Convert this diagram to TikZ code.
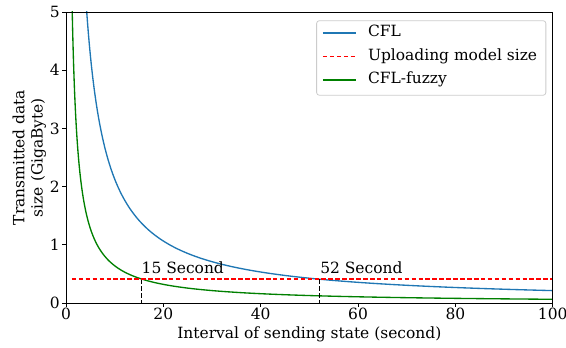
\documentclass[tikz,border=0pt]{standalone}
\usepackage{fontspec}
\setmainfont{DejaVu Serif}
\usetikzlibrary{calc}
\definecolor{cflblue}{HTML}{1F77B4}
\definecolor{fuzzygreen}{HTML}{008000}
\definecolor{limitred}{HTML}{FF0000}
\definecolor{legendgray}{HTML}{CCCCCC}

\begin{document}
\begin{tikzpicture}[x=3.65pt,y=43.65pt,
  every node/.style={font=\fontsize{11.6}{13.6}\selectfont},
  curve/.style={line width=1pt},
  limit/.style={line width=1pt,draw=limitred,dash pattern=on 3.4pt off 1.8pt},
  mark line/.style={line width=0.75pt,draw=black,dash pattern=on 3.4pt off 1.8pt},
  tick label x/.style={anchor=north,inner sep=0pt,yshift=-3.9pt},
  tick label y/.style={anchor=east,inner sep=0pt,xshift=-4.5pt}]

\useasboundingbox (-49.5pt,-33pt) rectangle (375pt,227.25pt);

% curves, clipped to the axes
\begin{scope}
\clip (0,0) rectangle (100,5);
\draw[curve,cflblue] plot[domain=1.44:4.61,samples=120] ({exp(\x)},{21.3/exp(\x)});
\draw[curve,fuzzygreen] plot[domain=0.24:4.61,samples=120] ({exp(\x)},{6.4/exp(\x)});
\end{scope}

% crossing points
\coordinate (c1) at (15.55,0.41);
\coordinate (c2) at (52,0.41);
\draw[mark line] (c1) -- (c1 |- 0,0);
\draw[mark line] (c2) -- (c2 |- 0,0);
\draw[limit] (1.2,0.41) -- (100,0.41);
\node (t1) [anchor=base west,inner sep=0pt] at (15.5,0.5) {15 Second};
\node (t2) [anchor=base west,inner sep=0pt] at (52.2,0.5) {52 Second};

% frame and ticks
\draw[line width=0.6pt] (0,0) rectangle (100,5);
\foreach \i in {0,20,...,100} {
  \draw[line width=0.6pt] (\i,0) -- ++(0,-3pt);
  \node[tick label x] (x\i) at (\i,0) {\i};
}
\foreach \j in {0,...,5} {
  \draw[line width=0.6pt] (0,\j) -- ++(-3pt,0);
  \node[tick label y] (y\j) at (0,\j) {\j};
}
\node (xlab) at (50,0) [yshift=-23.5pt] {Interval of sending state (second)};
\node (ylab) at (0,2.5) [xshift=-27.5pt,rotate=90,align=center] {Transmitted data\\size (GigaByte)};

% legend
\draw[legendgray,fill=white,rounded corners=2pt,line width=0.6pt] (51.5,3.57) rectangle (98.6,4.85);
\draw[curve,cflblue] (52.8,4.64) -- (59.6,4.64);
\draw[limit] (52.8,4.23) -- (59.6,4.23);
\draw[curve,fuzzygreen] (52.8,3.83) -- (59.6,3.83);
\node (l1) [anchor=mid west,inner sep=0pt] at (62,4.64) {CFL};
\node (l2) [anchor=mid west,inner sep=0pt] at (62,4.23) {Uploading model size};
\node (l3) [anchor=mid west,inner sep=0pt] at (62,3.83) {CFL-fuzzy};
\end{tikzpicture}
\end{document}
